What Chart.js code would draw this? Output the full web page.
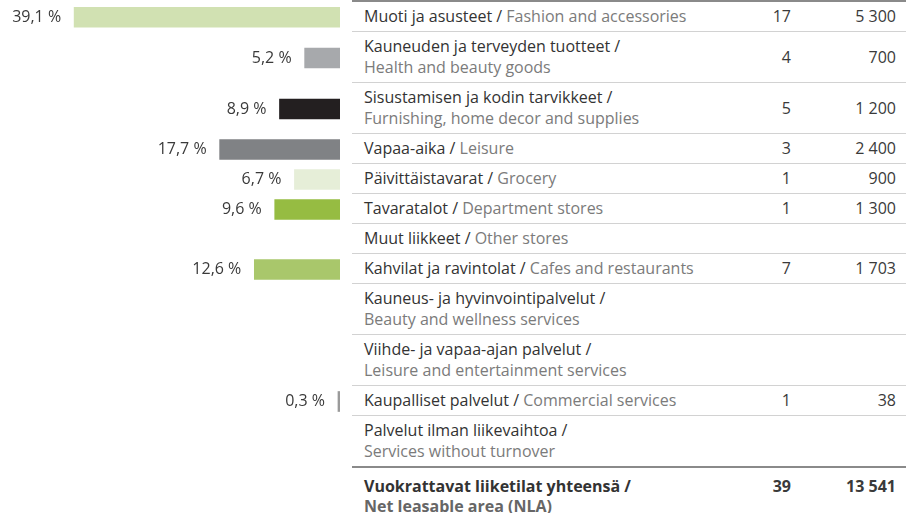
<!DOCTYPE html>
<html lang="fi">
<head>
<meta charset="utf-8">
<title>Liiketilat toimialoittain</title>
<script src="https://cdn.jsdelivr.net/npm/chart.js@4.4.1/dist/chart.umd.min.js"></script>
<style>
  html, body { margin: 0; padding: 0; background: #fff; }
  body {
    width: 906px; height: 513px; position: relative; overflow: hidden;
    font-family: "Open Sans", sans-serif; font-size: 16px; color: #333;
  }
  #barWrap { position: absolute; left: 0; top: 0; width: 340px; height: 513px; }
  #shareTable {
    position: absolute; left: 352px; top: 0; width: 554px;
    border-collapse: collapse; table-layout: fixed;
    border-top: 2px solid #8a8a8a;
  }
  #shareTable td {
    padding: 4px 0; line-height: 21px; vertical-align: middle;
    border-bottom: 1px solid #d2d2d2; color: #333;
  }
  #shareTable td.name { padding-left: 12px; }
  #shareTable td.count, #shareTable td.area { text-align: right; padding-right: 10px; color: #3a3a3a; }
  .fi, .en { white-space: nowrap; }
  .en { color: #7b7b7b; }
  #shareTable tr.total td {
    border-bottom: none; border-top: 2px solid #8a8a8a; font-weight: bold;
    padding-top: 8px; line-height: 20px; vertical-align: top;
  }
  #shareTable tr.total .en { color: #666; }
</style>
</head>
<body>
<div id="barWrap"><canvas id="shareChart"></canvas></div>
<table id="shareTable">
  <colgroup><col style="width:392px"><col style="width:57px"><col style="width:105px"></colgroup>
  <tbody id="shareRows"></tbody>
</table>

<script>
// Toimialat / categories (Finnish + English)
const namesFi = [
  "Muoti ja asusteet",
  "Kauneuden ja terveyden tuotteet",
  "Sisustamisen ja kodin tarvikkeet",
  "Vapaa-aika",
  "Päivittäistavarat",
  "Tavaratalot",
  "Muut liikkeet",
  "Kahvilat ja ravintolat",
  "Kauneus- ja hyvinvointipalvelut",
  "Viihde- ja vapaa-ajan palvelut",
  "Kaupalliset palvelut",
  "Palvelut ilman liikevaihtoa",
];
const namesEn = [
  "Fashion and accessories",
  "Health and beauty goods",
  "Furnishing, home decor and supplies",
  "Leisure",
  "Grocery",
  "Department stores",
  "Other stores",
  "Cafes and restaurants",
  "Beauty and wellness services",
  "Leisure and entertainment services",
  "Commercial services",
  "Services without turnover",
];

// share of leasable area, %
const shares = [39.1, 5.2, 8.9, 17.7, 6.7, 9.6, null, 12.6, null, null, 0.3, null];
// number of tenants
const counts = [17, 4, 5, 3, 1, 1, null, 7, null, null, 1, null];
// area, m2
const areas = [5300, 700, 1200, 2400, 900, 1300, null, 1703, null, null, 38, null];

const totalFi = "Vuokrattavat liiketilat yhteensä";
const totalEn = "Net leasable area (NLA)";

const shareColors = [
  "#d1e1b2", "#a7a9ac", "#231f20", "#808285", "#e6eed8",
  "#96bc42", null, "#a9c76b", null, null, "#9a9a9a", null,
];

function fmtNum(n) {
  if (n == null) return "";
  return String(n).replace(/\B(?=(\d{3})+(?!\d))/g, "\u00a0");
}

function fmtShare(v) {
  return v.toFixed(1).replace(".", ",") + " %";
}

function addRow(tbody, fi, en, count, area, cls) {
  const tr = document.createElement("tr");
  if (cls) tr.className = cls;
  tr.innerHTML =
    `<td class="name"><span class="fi">${fi} /</span> <span class="en">${en}</span></td>` +
    `<td class="count">${fmtNum(count)}</td>` +
    `<td class="area">${fmtNum(area)}</td>`;
  tbody.appendChild(tr);
  return tr;
}

// Percentage labels to the left of each bar
const shareLabels = {
  id: "shareLabels",
  afterDatasetsDraw(chart) {
    const { ctx } = chart;
    const ds = chart.data.datasets[0];
    const meta = chart.getDatasetMeta(0);
    ctx.save();
    ctx.font = '16px "Open Sans"';
    ctx.fillStyle = "#3a3a3a";
    ctx.textAlign = "right";
    ctx.textBaseline = "middle";
    meta.data.forEach((bar, i) => {
      ctx.fillText(fmtShare(ds.data[i].x), bar.x - 13, bar.y);
    });
    ctx.restore();
  },
};

function init() {
  const tbody = document.getElementById("shareRows");
  const rows = namesFi.map((fi, i) =>
    addRow(tbody, fi, namesEn[i], counts[i], areas[i], "cat"),
  );
  const sum = (arr) => arr.reduce((a, b) => a + (b || 0), 0);
  addRow(tbody, totalFi, totalEn, sum(counts), sum(areas), "total");

  // bar centres follow the table rows
  const wrap = document.getElementById("barWrap");
  const top0 = wrap.getBoundingClientRect().top;
  const points = [];
  const colors = [];
  shares.forEach((v, i) => {
    if (v == null) return;
    const r = rows[i].getBoundingClientRect();
    points.push({ x: v, y: r.top - top0 + r.height / 2 + 1 });
    colors.push(shareColors[i]);
  });

  new Chart(document.getElementById("shareChart"), {
    type: "bar",
    data: {
      datasets: [
        {
          data: points,
          backgroundColor: colors,
          borderWidth: 0,
          barThickness: 20,
        },
      ],
    },
    options: {
      indexAxis: "y",
      responsive: true,
      maintainAspectRatio: false,
      animation: false,
      layout: { padding: 0 },
      plugins: {
        legend: { display: false },
        tooltip: { enabled: false },
      },
      scales: {
        x: { type: "linear", min: 0, max: 50, reverse: true, display: false },
        y: {
          type: "linear",
          min: 0,
          max: wrap.clientHeight,
          reverse: true,
          offset: false,
          display: false,
        },
      },
    },
    plugins: [shareLabels],
  });
}

document.addEventListener("DOMContentLoaded", () => {
  document.fonts.ready.then(init);
});
</script>
</body>
</html>
